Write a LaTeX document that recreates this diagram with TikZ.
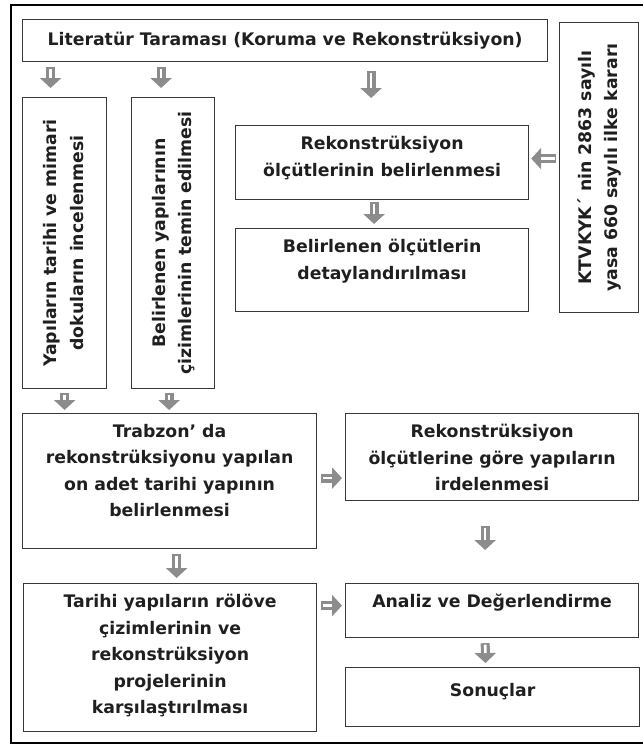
\documentclass[tikz,border=0pt]{standalone}
\usepackage{fontspec}
\setmainfont{DejaVu Sans}
\usepackage{graphicx}
\usepackage{xcolor}
\definecolor{arrgray}{rgb}{0.55,0.55,0.55}
\definecolor{linegray}{rgb}{0.22,0.22,0.22}
\usetikzlibrary{arrows.meta}

\begin{document}
\begin{tikzpicture}[x=1pt,y=-1pt,text=black!88,
                    font=\fontsize{17.3}{26.5}\selectfont\bfseries,
                    blk/.style 2 args={draw=arrgray,line width=9pt,
                      -{Triangle[width=21pt,length=10pt]},shorten <=#1,shorten >=#2,
                      postaction={draw=white,line width=2.6pt,-,
                        shorten <=#1+1.5pt,shorten >=#2+10pt}}]
  \tikzstyle{box}=[draw=linegray,line width=1.2pt,inner sep=0pt,anchor=north west]
  \tikzstyle{txt}=[anchor=north,align=center,inner sep=5pt,yshift=-6pt]

  \useasboundingbox (0,0) rectangle (643,745);
  \draw[line width=1.8pt] (11,5) rectangle (660,743);

  \node[box,minimum width=525,minimum height=42] (lit) at (22,19)
       {Literatür Taraması (Koruma ve Rekonstrüksiyon)};
  \node[box,minimum width=79,minimum height=290] (ktv) at (559,22)
       {\rotatebox{90}{\begin{tabular}{@{}c@{}}KTVKYK´ nin 2863 sayılı\\yasa 660 sayılı ilke kararı\end{tabular}}};
  \node[box,minimum width=84,minimum height=291] (yap) at (22,97)
       {\rotatebox{90}{\begin{tabular}{@{}c@{}}Yapıların tarihi ve mimari\\dokuların incelenmesi\end{tabular}}};
  \node[box,minimum width=83,minimum height=291] (cizim) at (131,97)
       {\rotatebox{90}{\begin{tabular}{@{}c@{}}Belirlenen yapılarının\\çizimlerinin temin edilmesi\end{tabular}}};
  \node[box,minimum width=293,minimum height=74,
        label={[txt]north:Rekonstrüksiyon\\ölçütlerinin belirlenmesi}] (rek) at (235,125) {};
  \node[box,minimum width=293,minimum height=83,
        label={[txt]north:Belirlenen ölçütlerin\\detaylandırılması}] (det) at (235,228) {};
  \node[box,minimum width=294,minimum height=135,
        label={[txt]north:Trabzon’ da\\rekonstrüksiyonu yapılan\\on adet tarihi yapının\\belirlenmesi}] (trab) at (22,413) {};
  \node[box,minimum width=293,minimum height=87,
        label={[txt]north:Rekonstrüksiyon\\ölçütlerine göre yapıların\\irdelenmesi}] (irde) at (345,413) {};
  \node[box,minimum width=293,minimum height=148,
        label={[txt]north:Tarihi yapıların rölöve\\çizimlerinin ve\\rekonstrüksiyon\\projelerinin\\karşılaştırılması}] (tarihi) at (23,583) {};
  \node[box,minimum width=293,minimum height=54,
        label={[txt]north:Analiz ve Değerlendirme}] (analiz) at (345,583) {};
  \node[box,minimum width=294,minimum height=59,
        label={[txt,yshift=-5pt]north:Sonuçlar}] (sonuc) at (345,667) {};

  \draw[blk={5pt}{9pt}] ([xshift=-14pt]yap.north |- lit.south) -- ([xshift=-14pt]yap.north);
  \draw[blk={5pt}{9pt}] ([xshift=-12pt]cizim.north |- lit.south) -- ([xshift=-12pt]cizim.north);
  \draw[blk={9pt}{27pt}] ([xshift=-11pt]rek.north |- lit.south) -- ([xshift=-11pt]rek.north);
  \draw[blk={2pt}{4pt}] ([xshift=-8pt]rek.south) -- ([xshift=-8pt]det.north);
  \draw[blk={3pt}{2pt}] ([yshift=4pt]ktv.west |- rek.east) -- ([yshift=4pt]rek.east);
  \draw[blk={4pt}{3pt}] (yap.south) -- (yap.south |- trab.north);
  \draw[blk={4pt}{3pt}] ([xshift=-4pt]cizim.south) -- ([xshift=-4pt]cizim.south |- trab.north);
  \draw[blk={4pt}{3pt}] ([yshift=3pt]trab.east) -- ([yshift=3pt]trab.east -| irde.west);
  \draw[blk={25pt}{33pt}] ([xshift=-7pt]irde.south) -- ([xshift=-7pt]analiz.north);
  \draw[blk={5pt}{5pt}] ([xshift=7pt]trab.south) -- ([xshift=7pt]trab.south |- tarihi.north);
  \draw[blk={4pt}{3pt}] ([yshift=5pt]tarihi.east |- analiz.west) -- ([yshift=5pt]analiz.west);
  \draw[blk={5pt}{4pt}] ([xshift=-7pt]analiz.south) -- ([xshift=-7pt]sonuc.north);
\end{tikzpicture}
\end{document}
